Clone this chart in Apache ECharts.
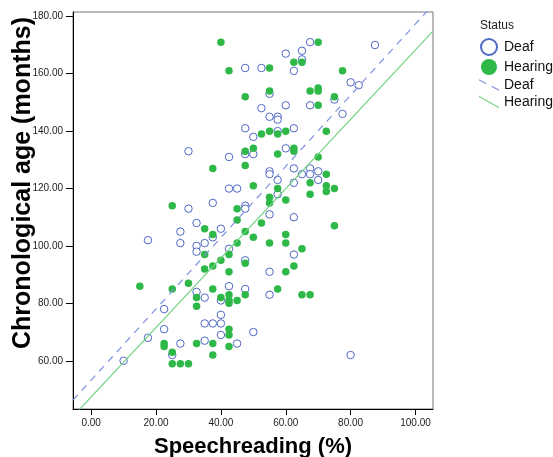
<!DOCTYPE html>
<html>
<head>
<meta charset="utf-8">
<script src="https://cdn.jsdelivr.net/npm/echarts@6/dist/echarts.min.js"></script>
<style>
  html, body { margin: 0; padding: 0; background: #ffffff; }
  #chart { width: 553px; height: 457px; }
</style>
</head>
<body>
<div id="chart"></div>
<script>
// Speechreading score (%) against chronological age (months), by hearing status
const deafPoints = [
  [47.5,162],[47.5,141],[67.5,171],[87.5,170],[60,167],[65,168],[65,165],[62.5,161],[52.5,162],
  [80,157],[82.5,156],[55,153],[75,151],[52.5,148],[60,149],[67.5,149],[77.5,146],[55,145],
  [57.5,145],[57.5,144],[50,138],[62.5,141],[57.5,140],
  [30,133],[42.5,131],[47.5,132],[42.5,120],[45,120],[30,113],[37.5,115],[47.5,114],[47.5,113],
  [32.5,108],[27.5,105],[40,106],[37.5,103],[17.5,102],[27.5,101],[32.5,100],[35,101],[32.5,98],
  [42.5,99],
  [47.5,95],[32.5,84],[42.5,86],[47.5,85],[35,82],[40,81],[22.5,78],[40,76],[35,73],[37.5,73],
  [40,73],[22.5,71],[40,69],[17.5,68],[35,67],[27.5,66],[45,66],[25,62],[10,60],
  [50,132],[60,134],[55,126],[55,125],[62.5,127],[67.5,127],[65,125],[67.5,125],[70,126],
  [70,123],[57.5,123],[62.5,122],[57.5,118],[55,111],[62.5,110],[62.5,97],
  [55,91],[55,83],[50,70],[80,62]
];

const hearingPoints = [
  [40,171],[42.5,161],[47.5,152],[70,171],[62.5,164],[65,164],[55,162],[77.5,161],[55,154],
  [67.5,154],[70,155],[70,154],[75,152],[70,149],[52.5,139],[55,140],[57.5,139],[60,140],
  [72.5,140],
  [47.5,133],[47.5,128],[37.5,127],[25,114],[45,113],[45,109],[35,106],[37.5,104],[47.5,105],
  [45,101],[42.5,97],[35,97],
  [40,95],[47.5,94],[35,92],[37.5,93],[42.5,91],[15,86],[25,85],[30,87],[37.5,85],[47.5,83],
  [32.5,82],[40,82],[42.5,83],[42.5,81],[42.5,80],[45,81],[32.5,79],[42.5,71],[42.5,69],
  [32.5,66],[37.5,66],[42.5,65],[22.5,66],[22.5,65],[25,63],[37.5,62],[25,59],[27.5,59],[30,59],
  [50,134],[62.5,134],[62.5,133],[57.5,132],[70,131],[72.5,125],[67.5,122],[50,121],[72.5,121],
  [72.5,119],[75,120],[57.5,120],[67.5,118],[55,117],[55,115],[60,116],[52.5,108],[75,107],
  [50,103],[60,104],[60,101],[55,101],[65,99],
  [62.5,93],[60,91],[57.5,85],[65,83],[67.5,83]
];

// Linear fits: [intercept, slope]
const deafFit = [53.25, 1.241];
const hearingFit = [47.4, 1.209];

// Axis ranges and labelled tick values
const xRange = [-5.6, 105.4];
const yRange = [43.2, 181.5];
const xTicks = [0, 20, 40, 60, 80, 100];
const yTicks = [60, 80, 100, 120, 140, 160, 180];

const FONT = '"Liberation Sans", Arial, sans-serif';
const DEAF_COLOR = '#5069c4';
const HEARING_COLOR = '#2eb848';
const DEAF_LINE = '#7f92e0';
const HEARING_LINE = '#72d283';

function fitLine(fit) {
  return xRange.map(x => [x, fit[0] + fit[1] * x]);
}

const chart = echarts.init(document.getElementById('chart'), null, { renderer: 'canvas' });

chart.setOption({
  animation: false,
  backgroundColor: '#ffffff',
  textStyle: { fontFamily: FONT },
  title: {
    text: 'Status',
    left: 475,
    top: 15,
    textStyle: { fontFamily: FONT, fontSize: 12, fontWeight: 'normal', color: '#222' }
  },
  legend: {
    orient: 'vertical',
    left: 474,
    top: 33,
    itemWidth: 20,
    itemHeight: 16,
    itemGap: 3,
    textStyle: { fontFamily: FONT, fontSize: 14, color: '#111' },
    formatter: name => name.replace(' fit', ''),
    data: [
      { name: 'Deaf', icon: 'circle' },
      { name: 'Hearing', icon: 'circle' },
      { name: 'Deaf fit', icon: 'path://M0,0L7,3.6L7,4.9L0,1.3Z M12,6.2L19,9.8L19,11.1L12,7.5Z' },
      { name: 'Hearing fit', icon: 'path://M0,0L21,12L21,13.3L0,1.3Z' }
    ]
  },
  grid: {
    left: 73,
    top: 12,
    right: 120,
    bottom: 48,
    outerBoundsMode: 'none',
    containLabel: false,
    show: true,
    borderColor: '#777',
    borderWidth: 1,
    backgroundColor: '#ffffff'
  },
  graphic: [{
    type: 'text',
    x: 23,
    y: 183,
    rotation: Math.PI / 2,
    style: {
      text: 'Chronological age (months)',
      font: 'bold 25px ' + FONT,
      fill: '#000',
      align: 'center',
      verticalAlign: 'middle'
    }
  }],
  xAxis: {
    type: 'value',
    min: xRange[0],
    max: xRange[1],
    name: 'Speechreading (%)',
    nameLocation: 'middle',
    nameGap: 27,
    nameTextStyle: { fontFamily: FONT, fontSize: 22, fontWeight: 'bold', color: '#000' },
    axisLine: { show: true, onZero: false, lineStyle: { color: '#000', width: 1 } },
    axisTick: { show: true, length: 6, customValues: xTicks, lineStyle: { color: '#000' } },
    axisLabel: {
      customValues: xTicks,
      formatter: v => v.toFixed(2),
      fontFamily: FONT, fontSize: 10, color: '#222', margin: 9
    },
    splitLine: { show: false }
  },
  yAxis: {
    type: 'value',
    min: yRange[0],
    max: yRange[1],
    axisLine: { show: true, onZero: false, lineStyle: { color: '#000', width: 1 } },
    axisTick: { show: true, length: 7, customValues: yTicks, lineStyle: { color: '#000' } },
    axisLabel: {
      customValues: yTicks,
      formatter: v => v.toFixed(2),
      fontFamily: FONT, fontSize: 10, color: '#222', margin: 10
    },
    splitLine: { show: false }
  },
  series: [
    {
      name: 'Deaf',
      type: 'scatter',
      data: deafPoints,
      symbol: 'circle',
      symbolSize: 7.5,
      itemStyle: { color: '#ffffff', borderColor: DEAF_COLOR, borderWidth: 1, opacity: 1 },
      z: 2
    },
    {
      name: 'Hearing',
      type: 'scatter',
      data: hearingPoints,
      symbol: 'circle',
      symbolSize: 7.5,
      itemStyle: { color: HEARING_COLOR, opacity: 1 },
      z: 3
    },
    {
      name: 'Deaf fit',
      type: 'line',
      data: fitLine(deafFit),
      showSymbol: false,
      symbol: 'none',
      itemStyle: { color: DEAF_LINE },
      lineStyle: { color: DEAF_LINE, width: 1.2, type: [7, 6] },
      z: 4
    },
    {
      name: 'Hearing fit',
      type: 'line',
      data: fitLine(hearingFit),
      showSymbol: false,
      symbol: 'none',
      itemStyle: { color: HEARING_LINE },
      lineStyle: { color: HEARING_LINE, width: 1.2 },
      z: 4
    }
  ]
});
</script>
</body>
</html>
